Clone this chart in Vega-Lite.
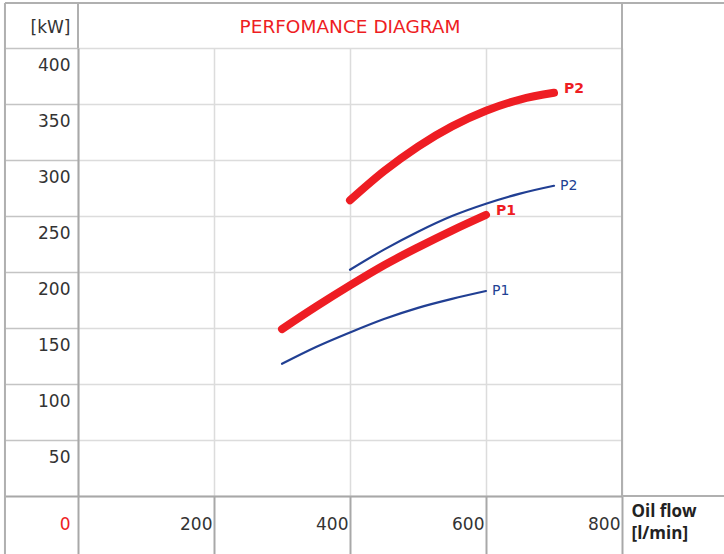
{
  "$schema": "https://vega.github.io/schema/vega-lite/v6.json",
  "width": 544,
  "height": 448,
  "autosize": {"type": "none"},
  "padding": {"left": 78, "top": 48, "right": 102, "bottom": 58},
  "background": "white",
  "config": {"view": {"stroke": null}, "font": "DejaVu Sans"},
  "title": {
    "text": "PERFOMANCE DIAGRAM",
    "color": "#ee1d23",
    "fontSize": 18.5,
    "fontWeight": "normal",
    "font": "DejaVu Sans",
    "anchor": "middle",
    "frame": "group",
    "baseline": "alphabetic",
    "offset": -50
  },
  "datasets": {
    "curves": [
      {"kind": "A", "series": "P2", "flow": 400, "power": 264},
      {"kind": "A", "series": "P2", "flow": 450, "power": 290},
      {"kind": "A", "series": "P2", "flow": 500, "power": 312},
      {"kind": "A", "series": "P2", "flow": 550, "power": 330},
      {"kind": "A", "series": "P2", "flow": 600, "power": 344},
      {"kind": "A", "series": "P2", "flow": 650, "power": 354},
      {"kind": "A", "series": "P2", "flow": 700, "power": 360},
      {"kind": "B", "series": "P2", "flow": 400, "power": 202},
      {"kind": "B", "series": "P2", "flow": 450, "power": 220},
      {"kind": "B", "series": "P2", "flow": 500, "power": 236},
      {"kind": "B", "series": "P2", "flow": 550, "power": 250},
      {"kind": "B", "series": "P2", "flow": 600, "power": 261},
      {"kind": "B", "series": "P2", "flow": 650, "power": 270},
      {"kind": "B", "series": "P2", "flow": 700, "power": 277},
      {"kind": "A", "series": "P1", "flow": 300, "power": 149},
      {"kind": "A", "series": "P1", "flow": 350, "power": 169},
      {"kind": "A", "series": "P1", "flow": 400, "power": 188},
      {"kind": "A", "series": "P1", "flow": 450, "power": 206},
      {"kind": "A", "series": "P1", "flow": 500, "power": 222},
      {"kind": "A", "series": "P1", "flow": 550, "power": 237},
      {"kind": "A", "series": "P1", "flow": 600, "power": 251},
      {"kind": "B", "series": "P1", "flow": 300, "power": 118},
      {"kind": "B", "series": "P1", "flow": 350, "power": 133},
      {"kind": "B", "series": "P1", "flow": 400, "power": 146},
      {"kind": "B", "series": "P1", "flow": 450, "power": 158},
      {"kind": "B", "series": "P1", "flow": 500, "power": 168},
      {"kind": "B", "series": "P1", "flow": 550, "power": 176},
      {"kind": "B", "series": "P1", "flow": 600, "power": 183}
    ],
    "frame": [
      {"flow": -107.4, "flow2": 950, "power": 440.2, "power2": 440.2},
      {"flow": -107.4, "flow2": -107.4, "power": 440.2, "power2": -51.8},
      {"flow": 0, "flow2": 0, "power": 440.2, "power2": 400},
      {"flow": 800, "flow2": 800, "power": 440.2, "power2": 0},
      {"flow": 800, "flow2": 950, "power": 0, "power2": 0}
    ]
  },
  "layer": [
    {
      "data": {"name": "curves"},
      "mark": {"type": "line", "interpolate": "monotone", "strokeCap": "round"},
      "encoding": {
        "x": {
          "field": "flow", "type": "quantitative",
          "scale": {"domain": [0, 800], "nice": false, "zero": false},
          "axis": {
            "values": [0, 200, 400, 600, 800],
            "grid": true, "gridColor": "#dcdcdc", "gridWidth": 1.5,
            "ticks": true, "tickSize": 58, "tickColor": "#a8a8a8", "tickWidth": 2,
            "domain": true, "domainColor": "#a8a8a8", "domainWidth": 2,
            "labelAlign": "right", "labelBaseline": "middle",
            "labelPadding": -30, "labelOffset": -2,
            "labelExpr": "datum.value == 0 ? '' : datum.label",
            "labelFont": "DejaVu Sans", "labelFontSize": 17, "labelColor": "#333333",
            "labelFlush": false, "labelOverlap": false, "labelBound": false,
            "title": ["Oil flow", "[l/min]"],
            "titleAngle": 0, "titleAlign": "left", "titleBaseline": "top",
            "titleX": 553, "titleY": 7,
            "titleFont": "Open Sans", "titleFontSize": 17, "titleFontWeight": "bold",
            "titleColor": "#222222", "titleLineHeight": 22
          }
        },
        "y": {
          "field": "power", "type": "quantitative",
          "scale": {"domain": [0, 400], "nice": false, "zero": false},
          "axis": {
            "values": [0, 50, 100, 150, 200, 250, 300, 350, 400],
            "grid": true, "gridColor": "#dcdcdc", "gridWidth": 1.5,
            "ticks": true, "tickSize": 73,
            "tickColor": {"condition": {"test": "datum.value == 0", "value": "#a8a8a8"}, "value": "#c4c4c4"},
            "tickWidth": {"condition": {"test": "datum.value == 0", "value": 2}, "value": 1.5},
            "domain": true, "domainColor": "#a8a8a8", "domainWidth": 2,
            "labelAlign": "right", "labelBaseline": "middle",
            "labelPadding": -65,
            "labelOffset": {"condition": {"test": "datum.value == 0", "value": 28}, "value": 17},
            "labelColor": {"condition": {"test": "datum.value == 0", "value": "#ee1d23"}, "value": "#333333"},
            "labelFont": "DejaVu Sans", "labelFontSize": 17,
            "labelFlush": false, "labelOverlap": false, "labelBound": false,
            "title": "[kW]",
            "titleAngle": 0, "titleAlign": "right", "titleBaseline": "middle",
            "titleX": -8, "titleY": -21,
            "titleFont": "DejaVu Sans", "titleFontSize": 17, "titleFontWeight": "normal",
            "titleColor": "#333333"
          }
        },
        "color": {
          "field": "kind", "type": "nominal",
          "scale": {"domain": ["A", "B"], "range": ["#ee1d23", "#213f93"]},
          "legend": null
        },
        "strokeWidth": {
          "field": "kind", "type": "nominal",
          "scale": {"domain": ["A", "B"], "range": [8, 2.2]},
          "legend": null
        },
        "detail": {"field": "series", "type": "nominal"}
      }
    },
    {
      "data": {"name": "frame"},
      "mark": {"type": "rule", "color": "#b0b0b0", "strokeWidth": 2},
      "encoding": {
        "x": {"field": "flow", "type": "quantitative"},
        "x2": {"field": "flow2"},
        "y": {"field": "power", "type": "quantitative"},
        "y2": {"field": "power2"}
      }
    },
    {
      "data": {"name": "curves"},
      "transform": [
        {"filter": "datum.kind == 'A'"},
        {"joinaggregate": [{"op": "max", "field": "flow", "as": "maxflow"}], "groupby": ["series"]},
        {"filter": "datum.flow == datum.maxflow"}
      ],
      "mark": {"type": "text", "align": "left", "baseline": "middle", "dx": 10, "dy": -4, "fontSize": 14, "fontWeight": "bold", "font": "DejaVu Sans", "color": "#ee1d23"},
      "encoding": {
        "x": {"field": "flow", "type": "quantitative"},
        "y": {"field": "power", "type": "quantitative"},
        "text": {"field": "series"}
      }
    },
    {
      "data": {"name": "curves"},
      "transform": [
        {"filter": "datum.kind == 'B'"},
        {"joinaggregate": [{"op": "max", "field": "flow", "as": "maxflow"}], "groupby": ["series"]},
        {"filter": "datum.flow == datum.maxflow"}
      ],
      "mark": {"type": "text", "align": "left", "baseline": "middle", "dx": 6, "dy": 0, "fontSize": 14, "font": "DejaVu Sans", "color": "#213f93"},
      "encoding": {
        "x": {"field": "flow", "type": "quantitative"},
        "y": {"field": "power", "type": "quantitative"},
        "text": {"field": "series"}
      }
    }
  ]
}
